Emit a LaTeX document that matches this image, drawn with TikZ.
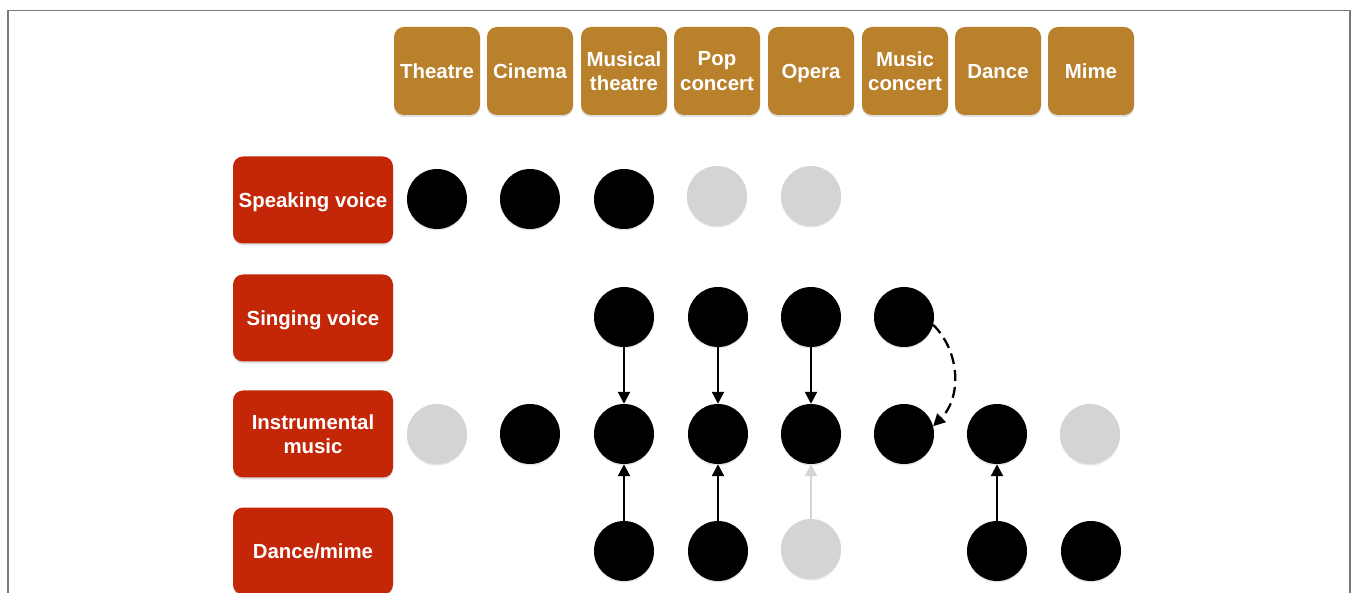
\documentclass[tikz,border=0pt]{standalone}
\usepackage{fontspec}
\setmainfont{Liberation Sans}
\usetikzlibrary{arrows.meta,shadows}
\definecolor{hdr}{HTML}{B9812C}
\definecolor{rowred}{HTML}{C42608}
\definecolor{lgray}{HTML}{D4D4D4}
\definecolor{framegray}{HTML}{7A7A7A}
\tikzset{
  hdrbox/.style={rectangle, rounded corners=10pt, fill=hdr, minimum width=86pt, minimum height=88pt,
    text=white, font=\fontsize{20.4}{24.5}\selectfont\bfseries, align=center, inner sep=0pt,
    drop shadow={opacity=0.25, shadow xshift=0pt, shadow yshift=-2pt}},
  oneline/.style={text height=18pt, text depth=3.6pt},
  rowbox/.style={hdrbox, fill=rowred, minimum width=160pt, minimum height=87pt},
  blk/.style={circle, fill=black, minimum size=60pt, inner sep=0pt,
    drop shadow={opacity=0.2, shadow xshift=0pt, shadow yshift=-1.5pt}},
  gdot/.style={blk, fill=lgray},
  arr/.style={line width=2.3pt, -{Triangle[length=12pt,width=12pt]}},
  garr/.style={arr, draw=lgray, color=lgray},
  darr/.style={arr, dash pattern=on 11pt off 6pt}
}
\begin{document}
\begin{tikzpicture}[x=1pt,y=-1pt]
\useasboundingbox (0,0) rectangle (1358,593);
\fill[white] (0,0) rectangle (1358,593);
\draw[framegray, line width=1.5pt] (8,600) -- (8,10.5) -- (1350,10.5) -- (1350,600);

% header
\node[hdrbox, oneline] (h1) at (437,71) {Theatre};
\node[hdrbox, oneline] (h2) at (530,71) {Cinema};
\node[hdrbox] (h3) at (624,71) {Musical\\theatre};
\node[hdrbox] (h4) at (717,71) {Pop\\concert};
\node[hdrbox, oneline] (h5) at (811,71) {Opera};
\node[hdrbox] (h6) at (905,71) {Music\\concert};
\node[hdrbox, oneline] (h7) at (998,71) {Dance};
\node[hdrbox, oneline] (h8) at (1091,71) {Mime};

% rows
\node[rowbox, oneline] (r1) at (313,200) {Speaking voice};
\node[rowbox, oneline] (r2) at (313,318) {Singing voice};
\node[rowbox] (r3) at (313,434) {Instrumental\\music};
\node[rowbox, oneline] (r4) at (313,551) {Dance/mime};

% speaking
\node[blk] (s1) at (437,199) {};
\node[blk] (s2) at (530,199) {};
\node[blk] (s3) at (624,199) {};
\node[gdot] (s4) at (717,196) {};
\node[gdot] (s5) at (811,196) {};

% singing
\node[blk] (g3) at (624,317) {};
\node[blk] (g4) at (718,317) {};
\node[blk] (g5) at (811,317) {};
\node[blk] (g6) at (904,317) {};

% instrumental
\node[gdot] (i1) at (437,434) {};
\node[blk] (i2) at (530,434) {};
\node[blk] (i3) at (624,434) {};
\node[blk] (i4) at (718,434) {};
\node[blk] (i5) at (811,434) {};
\node[blk] (i6) at (904,434) {};
\node[blk] (i7) at (997,434) {};
\node[gdot] (i8) at (1090,434) {};

% dance/mime
\node[blk] (d3) at (624,551) {};
\node[blk] (d4) at (718,551) {};
\node[gdot] (d5) at (811,549) {};
\node[blk] (d7) at (997,551) {};
\node[blk] (d8) at (1091,551) {};

% arrows
\draw[arr] (g3) -- (i3);
\draw[arr] (g4) -- (i4);
\draw[arr] (g5) -- (i5);
\draw[darr] (g6.-15) to[bend left=45] (i6.15);
\draw[arr] (d3) -- (i3);
\draw[arr] (d4) -- (i4);
\draw[garr] (d5) -- (i5);
\draw[arr] (d7) -- (i7);
\end{tikzpicture}
\end{document}
